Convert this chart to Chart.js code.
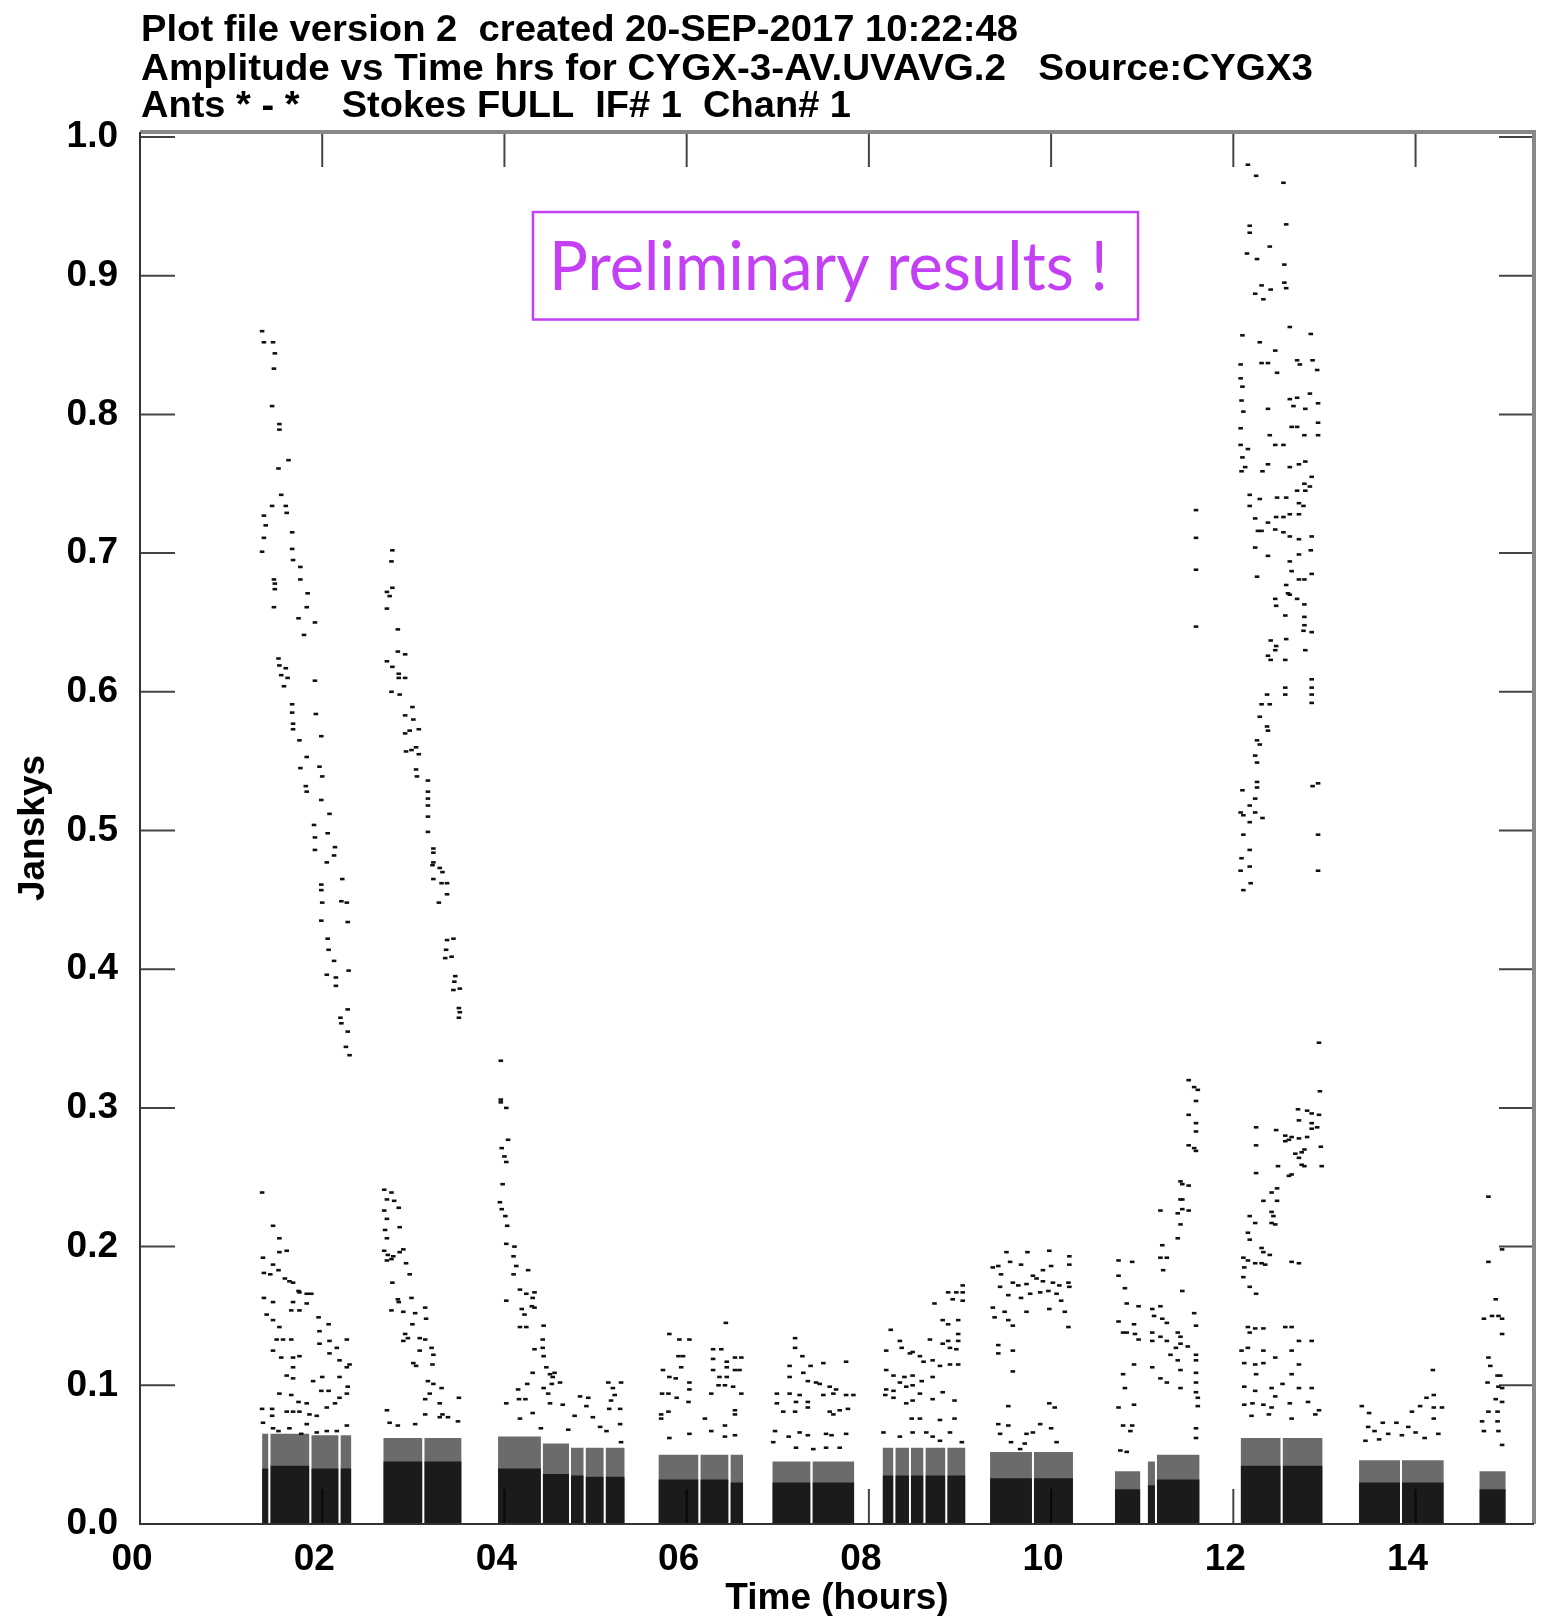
<!DOCTYPE html>
<html>
<head>
  <title>Amplitude vs Time - CYGX3</title>
  <script src="https://cdn.jsdelivr.net/npm/chart.js"></script>
  <style>
    body { margin: 0; background: #fff; }
    #wrap { width: 1544px; height: 1616px; }
  </style>
</head>
<body>
<div id="wrap"><canvas id="myChart" width="1544" height="1616"></canvas></div>
<script>
// header lines of the AIPS plot
var headerLines = [
  'Plot file version 2  created 20-SEP-2017 10:22:48',
  'Amplitude vs Time hrs for CYGX-3-AV.UVAVG.2   Source:CYGX3',
  'Ants * - *    Stokes FULL  IF# 1  Chan# 1'
];
var xTitle = 'Time (hours)';
var yTitle = 'Janskys';
var noteText = 'Preliminary results !';

// axis ranges (hours, Jy)
var xMin = 0, xMax = 15.30, xStep = 2;
var yMin = 0, yMax = 1.0036, yStep = 0.1;

// dense low-amplitude band of each sub-scan: start, end (hrs), speckle top, solid top (Jy)
var bandStart = [1.34, 1.43, 1.88, 2.20, 2.67, 3.12, 3.93, 4.42, 4.73, 4.89, 5.11, 5.69, 6.15, 6.48, 6.94, 7.38,
                 8.15, 8.29, 8.46, 8.62, 8.86, 9.33, 9.81, 10.70, 11.06, 11.16, 12.08, 12.54, 13.38, 13.85, 14.70];
var bandEnd   = [1.41, 1.86, 2.18, 2.32, 3.10, 3.53, 4.40, 4.71, 4.87, 5.09, 5.32, 6.13, 6.46, 6.62, 7.36, 7.84,
                 8.27, 8.44, 8.60, 8.84, 9.06, 9.79, 10.24, 10.98, 11.14, 11.63, 12.52, 12.98, 13.83, 14.31, 14.99];
var bandTop   = [0.065, 0.065, 0.064, 0.064, 0.062, 0.062, 0.063, 0.058, 0.055, 0.055, 0.055, 0.050, 0.050, 0.050, 0.045, 0.045,
                 0.055, 0.055, 0.055, 0.055, 0.055, 0.052, 0.052, 0.038, 0.045, 0.050, 0.062, 0.062, 0.046, 0.046, 0.038];
var coreTop   = [0.040, 0.042, 0.040, 0.040, 0.045, 0.045, 0.040, 0.036, 0.035, 0.034, 0.034, 0.032, 0.032, 0.030, 0.030, 0.030,
                 0.035, 0.035, 0.035, 0.035, 0.035, 0.033, 0.033, 0.025, 0.028, 0.032, 0.042, 0.042, 0.030, 0.030, 0.025];

// scattered visibilities [hours, Jy]
var scan1Upper = [[1.34,0.860],[1.36,0.852],[1.46,0.852],[1.48,0.844],[1.47,0.833],[1.45,0.806],[1.53,0.793],[1.53,0.789],
  [1.63,0.767],[1.52,0.761],[1.55,0.742],[1.45,0.734],[1.60,0.734],[1.61,0.729],[1.36,0.727],[1.38,0.720],[1.36,0.711],
  [1.34,0.701],[1.67,0.715],[1.67,0.703],[1.68,0.695],[1.76,0.690],[1.76,0.681],[1.47,0.681],[1.48,0.678],[1.48,0.674],
  [1.47,0.661],[1.84,0.671],[1.83,0.661],[1.74,0.653],[1.92,0.650],[1.80,0.641],[1.52,0.624],[1.53,0.619],[1.60,0.617],
  [1.55,0.612],[1.62,0.610],[1.58,0.604],[1.92,0.608],[1.67,0.591],[1.67,0.585],[1.68,0.577],[1.68,0.573],[1.93,0.584],
  [1.75,0.565],[1.99,0.568],[1.83,0.553],[1.76,0.545],[1.97,0.546],[2.00,0.539],[1.82,0.532],[1.83,0.528],[1.99,0.522],
  [2.08,0.512],[1.91,0.504],[1.92,0.495],[1.92,0.486],[2.06,0.498],[2.14,0.488],[2.13,0.482],[2.05,0.477],[2.22,0.465],
  [1.99,0.461],[1.99,0.457],[2.21,0.449],[2.27,0.448],[2.00,0.448],[1.99,0.435],[2.28,0.434],[2.06,0.422],[2.07,0.414],
  [2.13,0.406],[2.29,0.399],[2.05,0.396],[2.15,0.394],[2.15,0.388],[2.28,0.371],[2.20,0.365],[2.21,0.361],[2.28,0.355],
  [2.26,0.344],[2.30,0.338]];
var scan1Lower = [[1.34,0.239],[1.46,0.215],[1.53,0.206],[1.61,0.197],[1.53,0.196],[1.35,0.192],[1.46,0.187],[1.52,0.183],
  [1.36,0.181],[1.43,0.180],[1.59,0.177],[1.64,0.175],[1.68,0.174],[1.75,0.167],[1.83,0.166],[1.74,0.168],[1.36,0.163],
  [1.46,0.160],[1.39,0.151],[1.68,0.160],[1.83,0.159],[1.88,0.166],[1.46,0.147],[1.53,0.142],[1.66,0.154],[1.75,0.154],
  [1.96,0.149],[2.07,0.144],[1.50,0.133],[1.57,0.133],[1.66,0.133],[1.97,0.139],[1.97,0.130],[2.08,0.132],[2.16,0.127],
  [2.27,0.133],[1.46,0.125],[1.55,0.120],[1.68,0.120],[1.75,0.121],[2.08,0.123],[2.19,0.118],[2.27,0.113],[2.30,0.115],
  [1.61,0.107],[1.68,0.113],[1.68,0.105],[1.90,0.103],[2.00,0.106],[2.19,0.106],[2.28,0.099],[1.99,0.096],[2.07,0.096],
  [2.27,0.094],[1.53,0.094],[1.66,0.093],[1.74,0.088],[1.83,0.087],[1.86,0.079],[1.94,0.078],[2.05,0.084],[2.14,0.087],
  [2.19,0.091],[1.34,0.083],[1.45,0.083],[1.45,0.078],[1.61,0.081],[1.68,0.081],[1.75,0.081],[1.35,0.073],[1.46,0.069],
  [1.52,0.067],[1.64,0.069],[1.83,0.072],[1.77,0.065],[1.94,0.066],[2.05,0.067],[2.16,0.067],[2.27,0.071]];
var scan2Upper = [[2.77,0.702],[2.76,0.694],[2.77,0.675],[2.71,0.672],[2.74,0.669],[2.71,0.660],[2.83,0.645],[2.83,0.629],
  [2.91,0.627],[2.71,0.622],[2.77,0.618],[2.84,0.613],[2.91,0.610],[2.84,0.610],[2.76,0.600],[2.85,0.598],[2.99,0.589],
  [2.91,0.583],[3.00,0.580],[2.96,0.572],[3.06,0.573],[2.91,0.570],[2.92,0.557],[2.98,0.558],[3.03,0.560],[3.06,0.555],
  [3.03,0.544],[3.04,0.539],[3.16,0.536],[3.16,0.528],[3.16,0.523],[3.16,0.518],[3.16,0.510],[3.16,0.499],[3.22,0.487],
  [3.22,0.484],[3.22,0.477],[3.21,0.475],[3.29,0.473],[3.32,0.470],[3.37,0.462],[3.31,0.462],[3.28,0.448],[3.22,0.465],
  [3.37,0.454],[3.37,0.421],[3.44,0.422],[3.36,0.414],[3.42,0.409],[3.35,0.408],[3.46,0.395],[3.45,0.391],[3.51,0.386],
  [3.44,0.385],[3.50,0.372],[3.51,0.369],[3.50,0.365]];
var scan2Lower = [[2.68,0.241],[2.76,0.239],[2.71,0.234],[2.79,0.233],[2.84,0.228],[2.68,0.226],[2.71,0.220],[2.85,0.214],
  [2.69,0.212],[2.71,0.206],[2.68,0.197],[2.72,0.194],[2.78,0.193],[2.85,0.196],[2.89,0.198],[2.71,0.190],[2.76,0.191],
  [2.92,0.188],[2.96,0.180],[2.77,0.174],[2.83,0.162],[2.84,0.160],[2.98,0.163],[2.76,0.154],[2.89,0.153],[3.02,0.152],
  [3.13,0.156],[3.14,0.148],[2.99,0.144],[2.91,0.137],[2.89,0.132],[2.94,0.134],[3.07,0.134],[3.13,0.133],[3.07,0.125],
  [3.20,0.127],[3.22,0.122],[3.00,0.116],[3.03,0.114],[3.21,0.115],[3.16,0.103],[3.22,0.101],[3.31,0.098],[3.13,0.090],
  [3.18,0.094],[3.29,0.087],[3.32,0.079],[3.50,0.091],[2.71,0.082],[2.74,0.073],[2.83,0.071],[3.02,0.072],[3.13,0.079],
  [3.29,0.077],[3.38,0.077],[3.49,0.074]];
var scan3 = [[3.96,0.334],[3.96,0.306],[3.96,0.304],[4.02,0.300],[4.04,0.277],[3.97,0.271],[4.00,0.265],[4.02,0.261],
  [3.98,0.245],[3.95,0.232],[3.97,0.227],[4.01,0.222],[4.03,0.215],[4.02,0.202],[4.11,0.200],[4.10,0.193],[4.13,0.186],
  [4.10,0.180],[4.26,0.183],[4.02,0.161],[4.17,0.169],[4.24,0.166],[4.33,0.167],[4.31,0.163],[4.19,0.155],[4.22,0.151],
  [4.17,0.142],[4.24,0.142],[4.30,0.157],[4.33,0.156],[4.43,0.143],[4.42,0.133],[4.33,0.126],[4.42,0.127],[4.43,0.121],
  [4.46,0.113],[4.31,0.109],[4.50,0.108],[4.53,0.106],[4.55,0.109],[4.25,0.101],[4.15,0.097],[4.52,0.101],[4.61,0.102],
  [4.02,0.087],[4.16,0.090],[4.23,0.090],[4.48,0.094],[4.43,0.098],[4.50,0.087],[4.64,0.086],[4.83,0.092],[4.92,0.091],
  [4.90,0.085],[4.77,0.078],[4.97,0.077],[4.17,0.076],[4.31,0.080],[5.14,0.102],[5.19,0.098],[5.21,0.093],[5.28,0.102],
  [5.17,0.089],[5.27,0.083],[5.15,0.083],[5.27,0.072],[5.12,0.067],[5.28,0.059],[5.05,0.070],[4.70,0.068],[4.40,0.069]];
var scan4 = [[5.81,0.137],[5.92,0.133],[6.03,0.133],[5.91,0.121],[5.96,0.121],[5.94,0.113],[5.74,0.111],[5.81,0.106],
  [5.88,0.105],[6.03,0.102],[6.03,0.097],[5.73,0.094],[5.80,0.094],[5.89,0.091],[6.02,0.088],[5.72,0.079],[5.80,0.081],
  [5.72,0.076],[6.20,0.076],[6.43,0.145],[6.29,0.126],[6.38,0.126],[6.29,0.119],[6.44,0.117],[6.53,0.120],[6.60,0.120],
  [6.29,0.111],[6.44,0.113],[6.53,0.111],[6.58,0.111],[6.36,0.106],[6.44,0.106],[6.35,0.100],[6.42,0.100],[6.51,0.099],
  [6.60,0.094],[6.53,0.082],[6.53,0.079],[6.27,0.094],[6.42,0.071],[6.27,0.067],[6.53,0.064],[6.03,0.065],[5.81,0.062],
  [6.42,0.063]];
var scan5 = [[7.19,0.134],[7.19,0.127],[7.27,0.121],[7.13,0.114],[7.36,0.114],[7.50,0.116],[7.75,0.117],[7.13,0.106],
  [7.28,0.109],[7.33,0.103],[7.42,0.102],[7.46,0.101],[7.57,0.099],[7.64,0.097],[6.99,0.094],[7.13,0.094],[7.24,0.093],
  [7.20,0.088],[7.33,0.088],[7.50,0.093],[7.61,0.094],[7.75,0.093],[7.83,0.093],[6.99,0.087],[7.06,0.081],[7.19,0.081],
  [7.33,0.084],[7.57,0.081],[7.61,0.079],[7.68,0.082],[7.77,0.083],[7.12,0.063],[7.24,0.066],[7.33,0.064],[7.53,0.065],
  [7.59,0.064],[7.75,0.065],[6.97,0.067],[6.95,0.059],[7.20,0.055],[7.39,0.054],[7.53,0.055],[7.68,0.055]];
var scan6 = [[8.24,0.140],[8.19,0.125],[8.36,0.127],[8.45,0.123],[8.56,0.121],[8.67,0.133],[8.81,0.130],[8.96,0.126],
  [8.34,0.132],[8.48,0.124],[8.72,0.159],[8.87,0.167],[8.96,0.167],[9.03,0.167],[9.03,0.172],[9.03,0.161],[8.92,0.162],
  [8.81,0.147],[8.87,0.144],[8.98,0.147],[8.98,0.137],[8.98,0.132],[8.87,0.132],[8.89,0.127],[8.19,0.111],[8.27,0.107],
  [8.34,0.102],[8.39,0.106],[8.48,0.107],[8.58,0.103],[8.70,0.106],[8.19,0.097],[8.27,0.096],[8.41,0.099],[8.48,0.100],
  [8.60,0.117],[8.70,0.118],[8.78,0.114],[8.89,0.115],[8.98,0.115],[8.18,0.093],[8.27,0.091],[8.41,0.087],[8.48,0.089],
  [8.56,0.094],[8.70,0.090],[8.81,0.095],[8.94,0.089],[8.47,0.076],[8.56,0.076],[8.78,0.075],[8.94,0.076],[8.16,0.066],
  [8.34,0.063],[8.48,0.066],[8.63,0.066],[8.70,0.063],[8.78,0.060],[8.89,0.066],[9.02,0.059]];
var scan7 = [[9.51,0.196],[9.74,0.196],[9.98,0.197],[9.36,0.185],[9.42,0.186],[9.55,0.189],[9.67,0.187],[9.80,0.179],
  [9.91,0.183],[10.00,0.186],[10.20,0.193],[10.20,0.187],[9.45,0.180],[9.58,0.174],[9.64,0.172],[9.73,0.173],[9.84,0.177],
  [9.91,0.175],[10.02,0.174],[10.09,0.172],[10.19,0.174],[10.20,0.171],[9.44,0.171],[9.53,0.165],[9.67,0.163],[9.77,0.166],
  [9.88,0.167],[9.97,0.168],[10.06,0.166],[10.11,0.161],[9.36,0.156],[9.38,0.149],[9.49,0.153],[9.53,0.147],[9.58,0.143],
  [9.73,0.153],[9.98,0.155],[10.15,0.153],[10.19,0.142],[9.42,0.129],[9.42,0.123],[9.58,0.125],[9.58,0.110],[9.53,0.085],
  [9.98,0.087],[10.04,0.084],[9.42,0.072],[9.53,0.071],[9.73,0.065],[9.80,0.066],[9.88,0.072],[9.44,0.065],[9.56,0.059],
  [9.66,0.054],[9.71,0.058],[10.06,0.059],[10.00,0.069]];
var scan8 = [[10.74,0.190],[10.89,0.189],[10.74,0.179],[10.81,0.170],[10.83,0.159],[10.74,0.146],[10.96,0.157],[10.79,0.138],
  [10.83,0.138],[10.91,0.144],[10.92,0.137],[10.96,0.133],[10.91,0.115],[10.79,0.108],[10.81,0.098],[10.74,0.084],
  [10.91,0.086],[10.79,0.071],[10.89,0.071],[10.87,0.067],[10.76,0.053],[10.83,0.052],[11.20,0.226],[11.22,0.201],
  [11.20,0.192],[11.27,0.192],[11.23,0.183],[11.11,0.155],[11.13,0.150],[11.20,0.157],[11.22,0.148],[11.27,0.145],
  [11.39,0.138],[11.42,0.135],[11.37,0.127],[11.42,0.130],[11.50,0.128],[11.11,0.138],[11.11,0.132],[11.20,0.135],
  [11.27,0.132],[11.31,0.122],[11.39,0.118],[11.42,0.111],[11.42,0.098],[11.27,0.102],[11.20,0.105],[11.11,0.113],
  [11.44,0.168],[11.39,0.206],[11.42,0.216],[11.39,0.224],[11.44,0.227],[11.51,0.226],[11.44,0.234],[11.42,0.234],
  [11.42,0.247],[11.44,0.245],[11.51,0.244],[11.51,0.273],[11.57,0.271],[11.59,0.269],[11.59,0.283],[11.59,0.289],
  [11.51,0.295],[11.59,0.305],[11.61,0.313],[11.57,0.315],[11.51,0.320],[11.57,0.152],[11.59,0.143],[11.59,0.122],
  [11.59,0.118],[11.59,0.109],[11.59,0.102],[11.59,0.095],[11.61,0.091],[11.61,0.085],[11.59,0.069],[11.59,0.062],
  [11.59,0.731],[11.59,0.711],[11.59,0.688],[11.59,0.647]];
var scan9Upper = [[12.16,0.980],[12.25,0.972],[12.55,0.967],[12.18,0.936],[12.18,0.931],[12.58,0.937],[12.40,0.921],
  [12.15,0.916],[12.26,0.912],[12.56,0.908],[12.56,0.895],[12.58,0.891],[12.31,0.893],[12.41,0.890],[12.24,0.887],
  [12.33,0.883],[12.62,0.863],[12.85,0.858],[12.10,0.857],[12.29,0.852],[12.46,0.846],[12.08,0.836],[12.31,0.837],
  [12.38,0.837],[12.48,0.830],[12.70,0.839],[12.73,0.836],[12.87,0.839],[12.92,0.832],[12.08,0.826],[12.10,0.820],
  [12.09,0.810],[12.11,0.802],[12.08,0.790],[12.08,0.778],[12.10,0.769],[12.09,0.759],[12.38,0.804],[12.62,0.811],
  [12.70,0.812],[12.66,0.806],[12.79,0.804],[12.84,0.815],[12.93,0.808],[12.40,0.785],[12.46,0.778],[12.55,0.778],
  [12.64,0.791],[12.70,0.791],[12.78,0.785],[12.93,0.794],[12.93,0.785],[12.16,0.775],[12.13,0.762],[12.38,0.764],
  [12.32,0.759],[12.62,0.762],[12.72,0.764],[12.79,0.766],[12.86,0.755],[12.84,0.748],[12.79,0.745],[12.70,0.745],
  [12.78,0.750],[12.18,0.742],[12.18,0.734],[12.29,0.739],[12.48,0.740],[12.58,0.740],[12.72,0.736],[12.77,0.734],
  [12.24,0.725],[12.27,0.716],[12.31,0.716],[12.38,0.722],[12.46,0.717],[12.47,0.726],[12.55,0.726],[12.62,0.728],
  [12.72,0.728],[12.55,0.715],[12.62,0.712],[12.72,0.710],[12.24,0.704],[12.38,0.698],[12.86,0.712],[12.85,0.702],
  [12.62,0.694],[12.72,0.699],[12.64,0.687],[12.26,0.683],[12.72,0.681],[12.78,0.681],[12.86,0.685],[12.58,0.677],
  [12.60,0.671],[12.62,0.670],[12.70,0.667],[12.46,0.667],[12.47,0.662],[12.78,0.663],[12.78,0.654],[12.78,0.648],
  [12.77,0.644],[12.86,0.643],[12.57,0.655],[12.47,0.633],[12.46,0.630],[12.41,0.637],[12.38,0.626],[12.41,0.623],
  [12.58,0.638],[12.57,0.623],[12.79,0.630],[12.57,0.603],[12.57,0.598],[12.86,0.609],[12.86,0.603],[12.86,0.598],
  [12.86,0.592],[12.37,0.598],[12.31,0.591],[12.40,0.591],[12.29,0.582],[12.37,0.575],[12.38,0.572],[12.29,0.562],
  [12.26,0.565],[12.24,0.554],[12.26,0.549],[12.26,0.535],[12.26,0.531],[12.24,0.523],[12.87,0.532],[12.93,0.534],
  [12.10,0.529],[12.11,0.511],[12.08,0.513],[12.18,0.518],[12.18,0.506],[12.24,0.513],[12.32,0.509],[12.11,0.497],
  [12.18,0.486],[12.18,0.474],[12.09,0.480],[12.19,0.462],[12.11,0.457],[12.08,0.471],[12.93,0.497],[12.93,0.471]];
var scan9Lower = [[12.94,0.347],[12.95,0.312],[12.71,0.299],[12.81,0.298],[12.86,0.296],[12.94,0.295],[12.25,0.286],
  [12.47,0.284],[12.72,0.291],[12.86,0.289],[12.92,0.286],[12.57,0.280],[12.64,0.279],[12.72,0.278],[12.81,0.279],
  [12.86,0.285],[12.25,0.273],[12.57,0.276],[12.61,0.277],[12.68,0.267],[12.75,0.268],[12.78,0.270],[12.72,0.264],
  [12.75,0.259],[12.78,0.258],[12.96,0.272],[12.97,0.258],[12.49,0.258],[12.25,0.253],[12.61,0.251],[12.64,0.252],
  [12.42,0.239],[12.48,0.242],[12.33,0.233],[12.48,0.233],[12.18,0.222],[12.24,0.217],[12.42,0.225],[12.44,0.222],
  [12.42,0.217],[12.46,0.216],[12.16,0.210],[12.18,0.205],[12.31,0.199],[12.33,0.196],[12.40,0.194],[12.31,0.188],
  [12.11,0.192],[12.12,0.185],[12.16,0.190],[12.24,0.188],[12.35,0.187],[12.11,0.178],[12.18,0.171],[12.25,0.166],
  [12.64,0.189],[12.72,0.188],[12.16,0.142],[12.24,0.141],[12.33,0.141],[12.57,0.142],[12.64,0.142],[12.18,0.138],
  [12.09,0.125],[12.16,0.127],[12.33,0.125],[12.46,0.120],[12.64,0.125],[12.72,0.132],[12.86,0.132],[12.12,0.116],
  [12.24,0.115],[12.33,0.116],[12.25,0.108],[12.64,0.108],[12.72,0.115],[12.12,0.099],[12.24,0.096],[12.42,0.098],
  [12.46,0.092],[12.54,0.101],[12.72,0.098],[12.86,0.098],[12.12,0.086],[12.21,0.087],[12.33,0.086],[12.42,0.084],
  [12.62,0.087],[12.82,0.088],[12.94,0.082],[12.20,0.078],[12.39,0.079],[12.64,0.076],[12.90,0.079]];
var scan10 = [[13.41,0.085],[13.49,0.080],[13.48,0.070],[13.64,0.073],[13.79,0.073],[13.92,0.070],[13.96,0.081],
  [14.05,0.085],[14.12,0.091],[14.20,0.093],[14.29,0.084],[14.20,0.084],[14.20,0.076],[14.19,0.111],[13.55,0.067],
  [13.70,0.065],[13.60,0.061],[13.85,0.064],[14.00,0.066],[14.10,0.062],[14.25,0.065],[13.45,0.060]];
var scan11 = [[14.80,0.236],[14.95,0.198],[14.80,0.189],[14.88,0.162],[14.75,0.148],[14.84,0.150],[14.91,0.150],
  [14.95,0.148],[14.95,0.137],[14.80,0.120],[14.82,0.114],[14.90,0.107],[14.93,0.107],[14.79,0.102],[14.91,0.099],
  [14.95,0.098],[14.88,0.090],[14.95,0.088],[14.80,0.081],[14.90,0.081],[14.73,0.074],[14.90,0.074],[14.75,0.067],
  [14.91,0.067],[14.95,0.057]];

// note box corners and text anchor, in data units
var noteBox = { x0: 4.313, x1: 10.954, y0: 0.9459, y1: 0.8684 };
var noteAnchor = { x0: 4.489, x1: 10.625, y: 0.8897 };

var purple = '#c440f5';
var mainFont = 'Liberation Sans, Arial, Helvetica, sans-serif';

var allScans = [scan1Upper, scan1Lower, scan2Upper, scan2Lower, scan3, scan4, scan5, scan6, scan7, scan8,
                scan9Upper, scan9Lower, scan10, scan11];
var points = [];
allScans.forEach(function(s) {
  s.forEach(function(p) { points.push({ x: p[0], y: p[1] }); });
});

var datasets = [{
  label: 'vis',
  data: points,
  order: 0,
  pointStyle: 'line',
  pointRadius: 2.3,
  borderColor: '#111',
  backgroundColor: '#111',
  borderWidth: 2.6
}];

// dense bands as filled areas (speckle layer + solid core)
for (var i = 0; i < bandStart.length; i++) {
  datasets.push({
    type: 'line', label: 'band' + i, order: 2,
    data: [{ x: bandStart[i], y: bandTop[i] }, { x: bandEnd[i], y: bandTop[i] }],
    fill: 'origin', backgroundColor: 'rgba(0,0,0,0.58)', borderWidth: 0, pointRadius: 0
  });
  datasets.push({
    type: 'line', label: 'core' + i, order: 1,
    data: [{ x: bandStart[i], y: coreTop[i] }, { x: bandEnd[i], y: coreTop[i] }],
    fill: 'origin', backgroundColor: 'rgba(0,0,0,0.75)', borderWidth: 0, pointRadius: 0
  });
}

function fitText(ctx, text, x, y, width) {
  var w = ctx.measureText(text).width;
  ctx.save();
  ctx.translate(x, y);
  ctx.scale(width / w, 1);
  ctx.fillText(text, 0, 0);
  ctx.restore();
}

// inward tick marks on all four sides, drawn under the data
var innerTicks = {
  id: 'innerTicks',
  beforeDatasetsDraw: function(chart) {
    var ctx = chart.ctx, a = chart.chartArea;
    var xs = chart.scales.x, ys = chart.scales.y;
    var len = 35;
    ctx.save();
    ctx.strokeStyle = '#444';
    ctx.lineWidth = 2;
    ctx.beginPath();
    xs.ticks.forEach(function(t) {
      var px = xs.getPixelForValue(t.value);
      ctx.moveTo(px, a.top); ctx.lineTo(px, a.top + len);
      ctx.moveTo(px, a.bottom); ctx.lineTo(px, a.bottom - len);
    });
    ys.ticks.forEach(function(t) {
      var py = ys.getPixelForValue(t.value);
      ctx.moveTo(a.left, py); ctx.lineTo(a.left + len, py);
      ctx.moveTo(a.right, py); ctx.lineTo(a.right - len, py);
    });
    ctx.stroke();
    ctx.restore();
  }
};

// frame, header lines and the note box
var decorations = {
  id: 'decorations',
  afterDatasetsDraw: function(chart) {
    var ctx = chart.ctx, a = chart.chartArea;
    var xs = chart.scales.x, ys = chart.scales.y;
    ctx.save();
    // frame
    ctx.strokeStyle = '#888';
    ctx.lineWidth = 4;
    ctx.beginPath();
    ctx.moveTo(a.left, a.top); ctx.lineTo(a.right, a.top); ctx.lineTo(a.right, a.bottom);
    ctx.stroke();
    ctx.strokeStyle = '#333';
    ctx.lineWidth = 2;
    ctx.beginPath();
    ctx.moveTo(a.left, a.top); ctx.lineTo(a.left, a.bottom); ctx.lineTo(a.right, a.bottom);
    ctx.stroke();

    // header
    ctx.fillStyle = '#000';
    ctx.font = 'bold 37px ' + mainFont;
    ctx.textBaseline = 'alphabetic';
    ctx.textAlign = 'left';
    var widths = [877, 1172, 710];
    var bases = [41, 80, 117];
    headerLines.forEach(function(line, k) {
      fitText(ctx, line, a.left + 1, bases[k], widths[k]);
    });

    // note box
    var bx0 = xs.getPixelForValue(noteBox.x0), bx1 = xs.getPixelForValue(noteBox.x1);
    var by0 = ys.getPixelForValue(noteBox.y0), by1 = ys.getPixelForValue(noteBox.y1);
    ctx.strokeStyle = purple;
    ctx.lineWidth = 2.5;
    ctx.strokeRect(bx0, by0, bx1 - bx0, by1 - by0);
    ctx.fillStyle = purple;
    ctx.font = '68px Lato, "Open Sans", sans-serif';
    var tx0 = xs.getPixelForValue(noteAnchor.x0), tx1 = xs.getPixelForValue(noteAnchor.x1);
    fitText(ctx, noteText, tx0, ys.getPixelForValue(noteAnchor.y), tx1 - tx0);
    ctx.restore();
  }
};

var ctx = document.getElementById('myChart').getContext('2d');
var myChart = new Chart(ctx, {
  type: 'scatter',
  data: { datasets: datasets },
  options: {
    responsive: false,
    animation: false,
    events: [],
    layout: { padding: { top: 132, right: 10, left: 0, bottom: 0 } },
    plugins: {
      legend: { display: false },
      tooltip: { enabled: false }
    },
    scales: {
      x: {
        type: 'linear',
        min: xMin,
        max: xMax,
        grid: { display: false },
        border: { display: false },
        ticks: {
          stepSize: xStep,
          includeBounds: false,
          autoSkip: false,
          maxRotation: 0,
          labelOffset: -8,
          padding: 6,
          color: '#000',
          font: { family: mainFont, size: 37, weight: 'bold' },
          callback: function(v) { return (v < 10 ? '0' : '') + v; }
        },
        title: {
          display: true,
          text: xTitle,
          color: '#000',
          padding: { top: 0, bottom: -5 },
          font: { family: mainFont, size: 37, weight: 'bold' }
        },
        afterFit: function(s) { s.height = 92; }
      },
      y: {
        type: 'linear',
        min: yMin,
        max: yMax,
        grid: { display: false },
        border: { display: false },
        ticks: {
          stepSize: yStep,
          includeBounds: false,
          padding: 14,
          color: '#000',
          font: { family: mainFont, size: 37, weight: 'bold' },
          callback: function(v) { return v.toFixed(1); }
        },
        title: {
          display: true,
          text: yTitle,
          color: '#000',
          padding: { top: 12, bottom: 0 },
          font: { family: mainFont, size: 37, weight: 'bold' }
        },
        afterFit: function(s) { s.width = 140; }
      }
    }
  },
  plugins: [innerTicks, decorations]
});
</script>
</body>
</html>
